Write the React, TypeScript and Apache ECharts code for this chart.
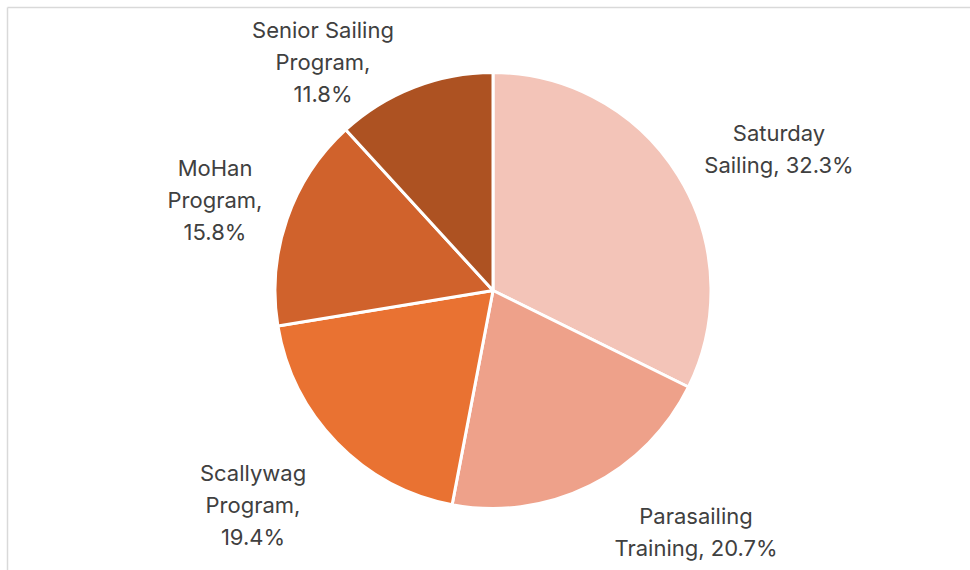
import React, { useEffect, useRef } from "react";
import * as echarts from "echarts";

const categories = [
  "Saturday\nSailing",
  "Parasailing\nTraining",
  "Scallywag\nProgram",
  "MoHan\nProgram",
  "Senior Sailing\nProgram",
];
const values = [32.3, 20.7, 19.4, 15.8, 11.8];
const valueSeparators = [" ", " ", "\n", "\n", "\n"];
const colors = ["#f3c4b8", "#eea18a", "#e97232", "#d0622c", "#ad5222"];

// label anchor centers (layout)
const labelCenters: [number, number][] = [
  [779, 149],
  [696, 532],
  [253, 505],
  [215, 200],
  [323, 62],
];

export default function App() {
  const ref = useRef<HTMLDivElement>(null);
  useEffect(() => {
    document.body.style.margin = "0";
    if (!ref.current) return;
    const chart = echarts.init(ref.current, null, { renderer: "svg" });
    chart.setOption({
      animation: false,
      backgroundColor: "#ffffff",
      graphic: [
        {
          type: "line",
          shape: { x1: 7.5, y1: 7.5, x2: 970, y2: 7.5 },
          style: { stroke: "#d9d9d9", lineWidth: 1.5 },
          silent: true,
        },
        {
          type: "line",
          shape: { x1: 7.5, y1: 7.5, x2: 7.5, y2: 570 },
          style: { stroke: "#d9d9d9", lineWidth: 1.5 },
          silent: true,
        },
      ],
      series: [
        {
          type: "pie",
          center: [493, 290.5],
          radius: [0, 218],
          startAngle: 90,
          clockwise: true,
          avoidLabelOverlap: false,
          itemStyle: { borderColor: "#ffffff", borderWidth: 3 },
          label: {
            show: true,
            position: "outside",
            fontFamily: "Inter, 'Noto Sans', sans-serif",
            fontSize: 22,
            lineHeight: 32,
            color: "#404040",
            align: "center",
            formatter: (p: any) =>
              `${p.name},${valueSeparators[p.dataIndex]}${p.value.toFixed(1)}%`,
          },
          labelLine: { show: false },
          labelLayout: (p: any) => {
            const c = labelCenters[p.dataIndex];
            return { x: c[0], y: c[1], align: "center", verticalAlign: "middle" };
          },
          emphasis: { disabled: true },
          data: categories.map((name, i) => ({
            name,
            value: values[i],
            itemStyle: { color: colors[i] },
          })),
        },
      ],
    });
    return () => chart.dispose();
  }, []);
  return <div ref={ref} style={{ width: 970, height: 570 }} />;
}
